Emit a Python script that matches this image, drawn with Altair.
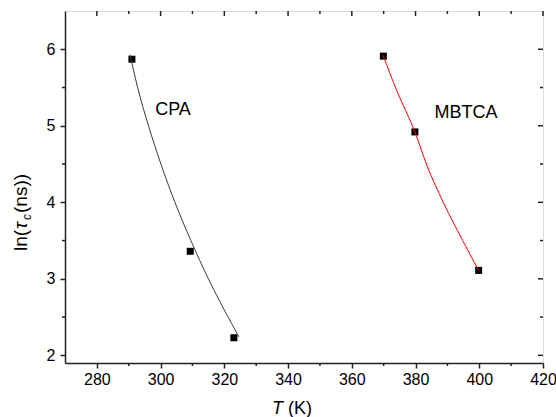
import altair as alt
import pandas as pd

# ---- data ----
cpa_T = [291.0, 309.3, 323.0]
cpa_ln = [5.87, 3.36, 2.23]
mb_T = [369.9, 379.8, 399.8]
mb_ln = [5.91, 4.92, 3.11]

cpa_fit_T = [290.4, 292.8, 296.2, 300.1, 304.5, 309.5, 315.0, 319.9, 324.6]
cpa_fit_ln = [5.93, 5.50, 5.00, 4.50, 4.00, 3.50, 3.00, 2.60, 2.24]
mb_fit_T = [369.8, 374.2, 379.8, 383.4, 388.7, 394.8, 399.8]
mb_fit_ln = [5.92, 5.45, 4.92, 4.50, 4.00, 3.50, 3.11]

x_major = [280, 300, 320, 340, 360, 380, 400, 420]
x_minor = [290, 310, 330, 350, 370, 390, 410]
y_major = [2, 3, 4, 5, 6]
y_minor = [2.5, 3.5, 4.5, 5.5]

labels = ["CPA", "MBTCA"]
label_T = [303.9, 395.8]
label_ln = [5.2, 5.17]

pts = pd.DataFrame({
    "T": cpa_T + mb_T,
    "ln": cpa_ln + mb_ln,
    "s": ["CPA"] * 3 + ["MBTCA"] * 3,
})
fit = pd.DataFrame({
    "T": cpa_fit_T + mb_fit_T,
    "ln": cpa_fit_ln + mb_fit_ln,
    "s": ["CPA"] * len(cpa_fit_T) + ["MBTCA"] * len(mb_fit_T),
})
lab = pd.DataFrame({"T": label_T, "ln": label_ln, "t": labels})
xmaj = pd.DataFrame({"T": x_major})
xmin = pd.DataFrame({"T": x_minor})
ymaj = pd.DataFrame({"ln": y_major})
ymin = pd.DataFrame({"ln": y_minor})

W, H = 478, 352
FONT = "Liberation Sans"
INK = "#222222"
xs = alt.Scale(domain=[270, 420], nice=False, zero=False)
ys = alt.Scale(domain=[1.9, 6.5], nice=False, zero=False)

X_AX = alt.Axis(
    orient="bottom", values=x_major, tickSize=5, tickWidth=1.5, tickColor=INK,
    domainColor=INK, domainWidth=1.5, grid=False, title=None,
    labelFont=FONT, labelFontSize=16, labelColor="black", labelPadding=3,
    labelFlush=False, labelOverlap=False)
Y_AX = alt.Axis(
    orient="left", values=y_major, tickSize=5, tickWidth=1.5, tickColor=INK,
    domainColor=INK, domainWidth=1.5, grid=False, title=None,
    labelFont=FONT, labelFontSize=16, labelColor="black", labelPadding=5,
    labelFlush=False, labelOverlap=False)

def X():
    return alt.X("T:Q", scale=xs, axis=X_AX, title=None)

def Y():
    return alt.Y("ln:Q", scale=ys, axis=Y_AX, title=None)

def xticks(df, y0, y1):
    return alt.Chart(df).mark_rule(color=INK, strokeWidth=1.5).encode(
        x=X(), y=alt.value(y0), y2=alt.value(y1))

def yticks(df, x0, x1):
    return alt.Chart(df).mark_rule(color=INK, strokeWidth=1.5).encode(
        y=Y(), x=alt.value(x0), x2=alt.value(x1))

ticks = [
    xticks(xmin, H, H + 3),          # bottom minor (outward)
    xticks(xmaj, 0, 5),              # top major (inward)
    xticks(xmin, 0, 3),              # top minor (inward)
    yticks(ymin, 0, -3),             # left minor (outward)
    yticks(ymaj, W, W - 5),          # right major (inward)
    yticks(ymin, W, W - 3),          # right minor (inward)
]

lines = alt.Chart(fit).mark_line(strokeWidth=1, interpolate="monotone").encode(
    x=X(), y=Y(),
    detail="s:N",
    color=alt.Color("s:N", scale=alt.Scale(domain=["CPA", "MBTCA"], range=["#3a3a3a", "#ff0000"]), legend=None),
)

points = alt.Chart(pts).mark_point(shape="square", filled=True, size=49, color="black", opacity=1).encode(
    x=X(), y=Y(),
)

names = alt.Chart(lab).mark_text(font=FONT, fontSize=18, color="black", align="center", baseline="middle").encode(
    x=X(), y=Y(), text="t:N",
)

def txt(s, x, y, size=18, style="normal", angle=0, align="left"):
    return alt.Chart(pd.DataFrame({"t": [s]})).mark_text(
        font=FONT, fontSize=size, fontStyle=style, color="black",
        align=align, baseline="alphabetic", angle=angle,
    ).encode(x=alt.value(x), y=alt.value(y), text="t:N")

# x-axis title  "T (K)"  (plot origin at page 65, 11)
xt1 = txt("T", 207, 403, style="italic")
xt2 = txt("(K)", 223, 403)
# y-axis title  ln(τc(ns))  rotated
yt1 = txt("ln(", -38, 240, size=19, angle=270)
yt2 = txt("τ", -38, 218, size=19, style="italic", angle=270)
yt3 = txt("c", -34, 209, size=12, style="italic", angle=270)
yt4 = txt("(ns))", -38, 202, size=19, angle=270)

chart = alt.layer(
    points, *ticks, lines, names,
    xt1, xt2, yt1, yt2, yt3, yt4,
).properties(
    width=W, height=H,
    autosize=alt.AutoSizeParams(type="none"),
    padding={"left": 65, "top": 11, "right": 13, "bottom": 54},
).configure_view(stroke=INK, strokeWidth=1.5).configure(background="white")

chart.save("out.html", embed_options={"renderer": "svg", "actions": False})
